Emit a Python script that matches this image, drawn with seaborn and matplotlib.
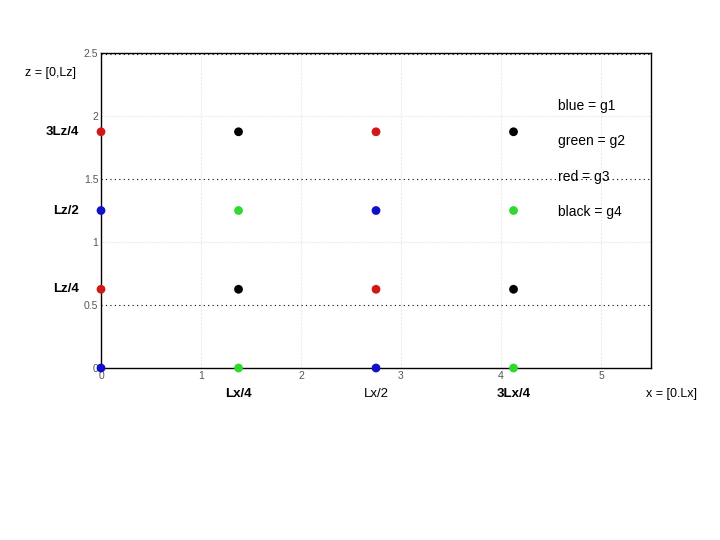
import pandas as pd
import numpy as np
import matplotlib
matplotlib.use("Agg")
import matplotlib.pyplot as plt
import seaborn as sns

# --- data ---
Lx = 5.5
Lz = 2.5
x_pos = [0, Lx / 4, Lx / 2, 3 * Lx / 4]
z_pos = [0, Lz / 4, Lz / 2, 3 * Lz / 4]
# group at each (x column, z row)
groups_col0 = ["g1", "g3", "g1", "g3"]
groups_col1 = ["g2", "g4", "g2", "g4"]
groups_col2 = ["g1", "g3", "g1", "g3"]
groups_col3 = ["g2", "g4", "g2", "g4"]
group_colors = {"g1": "#1010c8", "g2": "#30d830", "g3": "#d01818", "g4": "#000000"}
legend_lines = ["blue = g1", "green = g2", "red = g3", "black = g4"]
x_labels = ["Lx/4", "Lx/2", "3Lx/4"]
z_labels = ["Lz/4", "Lz/2", "3Lz/4"]

rows = []
for xv, grp in zip(x_pos, [groups_col0, groups_col1, groups_col2, groups_col3]):
    for zv, g in zip(z_pos, grp):
        rows.append({"x": xv, "z": zv, "group": g})
df = pd.DataFrame(rows)

sns.set_style("white")
plt.rcParams['font.family'] = ['Liberation Sans', 'DejaVu Sans']
plt.rcParams['text.color'] = 'black'

fig = plt.figure(figsize=(7.2, 5.4), dpi=100)
ax = fig.add_axes([0.1403, 0.3185, 0.7639, 0.5833])

# faint grid + dotted half lines
for xv in [1, 2, 3, 4, 5]:
    ax.axvline(xv, color="#ececec", lw=0.8, ls=(0, (2, 1)), zorder=0)
for zv in [1, 2]:
    ax.axhline(zv, color="#ececec", lw=0.8, ls=(0, (2, 1)), zorder=0)
for zv in [0.5, 1.5, 2.49]:
    ax.axhline(zv, color="black", lw=0.8, ls=(0, (1, 3)), zorder=1)

sns.scatterplot(data=df, x="x", y="z", hue="group", palette=group_colors,
                s=40, edgecolor="none", legend=False, ax=ax, zorder=3,
                clip_on=False)

ax.set_xlim(0, Lx)
ax.set_ylim(0, Lz)
ax.set_xticks([0, 1, 2, 3, 4, 5])
ax.set_yticks([0, 0.5, 1, 1.5, 2, 2.5])
ax.set_yticklabels(["0", "0.5", "1", "1.5", "2", "2.5"])
ax.tick_params(labelsize=7.5, labelcolor="#555555", length=0, pad=2)
ax.set_xlabel("")
ax.set_ylabel("")
for sp in ax.spines.values():
    sp.set_color("black")
    sp.set_linewidth(1.0)

# position labels
for xv, lab in zip(x_pos[1:], x_labels):
    ax.text(xv, -0.21, lab, ha="center", va="center", fontsize=9.5,
            fontweight="bold" if lab != "Lx/2" else "normal")
for zv, lab in zip(z_pos[1:], z_labels):
    ax.text(-0.22, zv, lab, ha="right", va="center", fontsize=9.5, fontweight="bold")
ax.text(-0.51, 2.34, "z = [0,Lz]", ha="center", va="center", fontsize=9)
ax.text(5.7, -0.21, "x = [0.Lx]", ha="center", va="center", fontsize=9)

# legend text
for i, txt in enumerate(legend_lines):
    ax.text(4.57, 2.08 - i * 0.28, txt, ha="left", va="center", fontsize=10)

fig.savefig("out.png", dpi=100)
